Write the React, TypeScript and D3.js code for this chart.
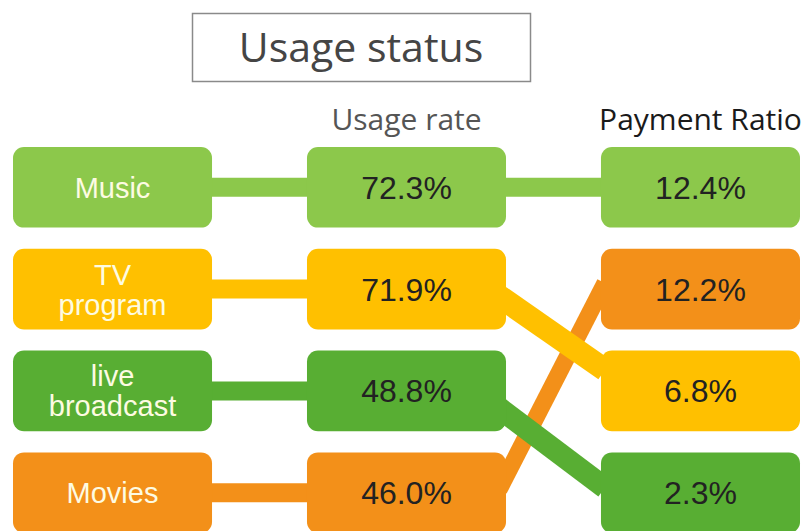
import React from 'react';
import * as d3 from 'd3';

// chart data
const categories = ['Music', 'TV program', 'live broadcast', 'Movies'];
const labelLines = [['Music'], ['TV', 'program'], ['live', 'broadcast'], ['Movies']];
const usageRate = [72.3, 71.9, 48.8, 46.0];
const paymentRatio = [12.4, 6.8, 2.3, 12.2];
const columnTitles = ['', 'Usage rate', 'Payment Ratio'];
const chartTitle = 'Usage status';
const colors = ['#8cc84b', '#ffc000', '#58ae33', '#f39019'];

const W = 807;
const H = 531;

// small per-link nudges so the diagonal bands leave / enter the boxes like the original
const linkShift: Record<string, [number, number, number]> = {
  Music: [0, 0, 19],
  'TV program': [7, -21, 23],
  'live broadcast': [17, -5, 22],
  Movies: [-3, -6, 17],
};

export default function App() {
  const n = categories.length;

  // row order: usage column sorted by usage, payment column sorted by payment
  const usageRank = d3.range(n).sort((a, b) => usageRate[b] - usageRate[a]);
  const payRank = d3.range(n).sort((a, b) => paymentRatio[b] - paymentRatio[a]);
  const usageRow = new Map(usageRank.map((d, i) => [d, i]));
  const payRow = new Map(payRank.map((d, i) => [d, i]));

  const y = d3.scaleBand<number>().domain(d3.range(n)).range([147, 533]).paddingInner(0.208);
  const x = d3.scaleBand<number>().domain([0, 1, 2]).range([13, 800]).paddingInner(0.323);
  const bw = x.bandwidth();
  const bh = y.bandwidth();
  const cy = (r: number) => (y(r) as number) + bh / 2;
  const fmt = d3.format('.1f');

  // links drawn behind boxes; orange first so the others sit on top of it
  const drawOrder = d3.range(n).sort((a, b) => (categories[a] === 'Movies' ? -1 : categories[b] === 'Movies' ? 1 : a - b));

  const left = (x(0) as number);
  const mid = (x(1) as number);
  const right = (x(2) as number);

  return (
    <svg width={W} height={H} style={{ position: 'absolute', left: 0, top: 0, background: '#fff' }}>
      {/* title */}
      <rect x={192.5} y={13.5} width={338} height={68} fill="#fff" stroke="#8a8a8a" strokeWidth={1.5} />
      <text x={361} y={62} textAnchor="middle" fontFamily="'Open Sans', 'Noto Sans', sans-serif" fontSize={41} fill="#454545">
        {chartTitle}
      </text>

      {/* column headers */}
      {columnTitles.map((t, i) =>
        t ? (
          <text key={t} x={(x(i) as number) + bw / 2} y={130} textAnchor="middle"
            fontFamily="'Open Sans', 'Noto Sans', sans-serif" fontSize={30}
            fill={i === 1 ? '#555' : '#1a1a1a'}>
            {t}
          </text>
        ) : null
      )}

      {/* connectors */}
      <g>
        {d3.range(n).map((i) => (
          <line key={'h' + i} x1={left + bw - 5} x2={mid + 5} y1={cy(usageRow.get(i)!)} y2={cy(usageRow.get(i)!)}
            stroke={colors[i]} strokeWidth={19} />
        ))}
        {drawOrder.map((i) => {
          const [d0, d1, sw] = linkShift[categories[i]];
          return (
            <line key={'d' + i} x1={mid + bw - 7} x2={right + 4}
              y1={cy(usageRow.get(i)!) + d0} y2={cy(payRow.get(i)!) + d1}
              stroke={colors[i]} strokeWidth={sw} />
          );
        })}
      </g>

      {/* boxes */}
      {d3.range(n).map((i) => {
        const r = usageRow.get(i)!;
        const pr = payRow.get(i)!;
        const lines = labelLines[i];
        return (
          <g key={categories[i]}>
            <rect x={left} y={y(r)} width={bw} height={bh} rx={11} fill={colors[i]} />
            <rect x={mid} y={y(r)} width={bw} height={bh} rx={11} fill={colors[i]} />
            <rect x={right} y={y(pr)} width={bw} height={bh} rx={11} fill={colors[i]} />
            <text textAnchor="middle" fontFamily="'Liberation Sans', Arial, sans-serif" fontSize={29} fill="#fdfbe2">
              {lines.map((l, k) => (
                <tspan key={l} x={left + bw / 2} y={cy(r) + (k - (lines.length - 1) / 2) * 30} dy="0.36em">{l}</tspan>
              ))}
            </text>
            <text x={mid + bw / 2} y={cy(r)} dy="0.36em" textAnchor="middle"
              fontFamily="'Liberation Sans', Arial, sans-serif" fontSize={32} fill="#222">
              {fmt(usageRate[i])}%
            </text>
            <text x={right + bw / 2} y={cy(pr)} dy="0.36em" textAnchor="middle"
              fontFamily="'Liberation Sans', Arial, sans-serif" fontSize={32} fill="#222">
              {fmt(paymentRatio[i])}%
            </text>
          </g>
        );
      })}
    </svg>
  );
}
